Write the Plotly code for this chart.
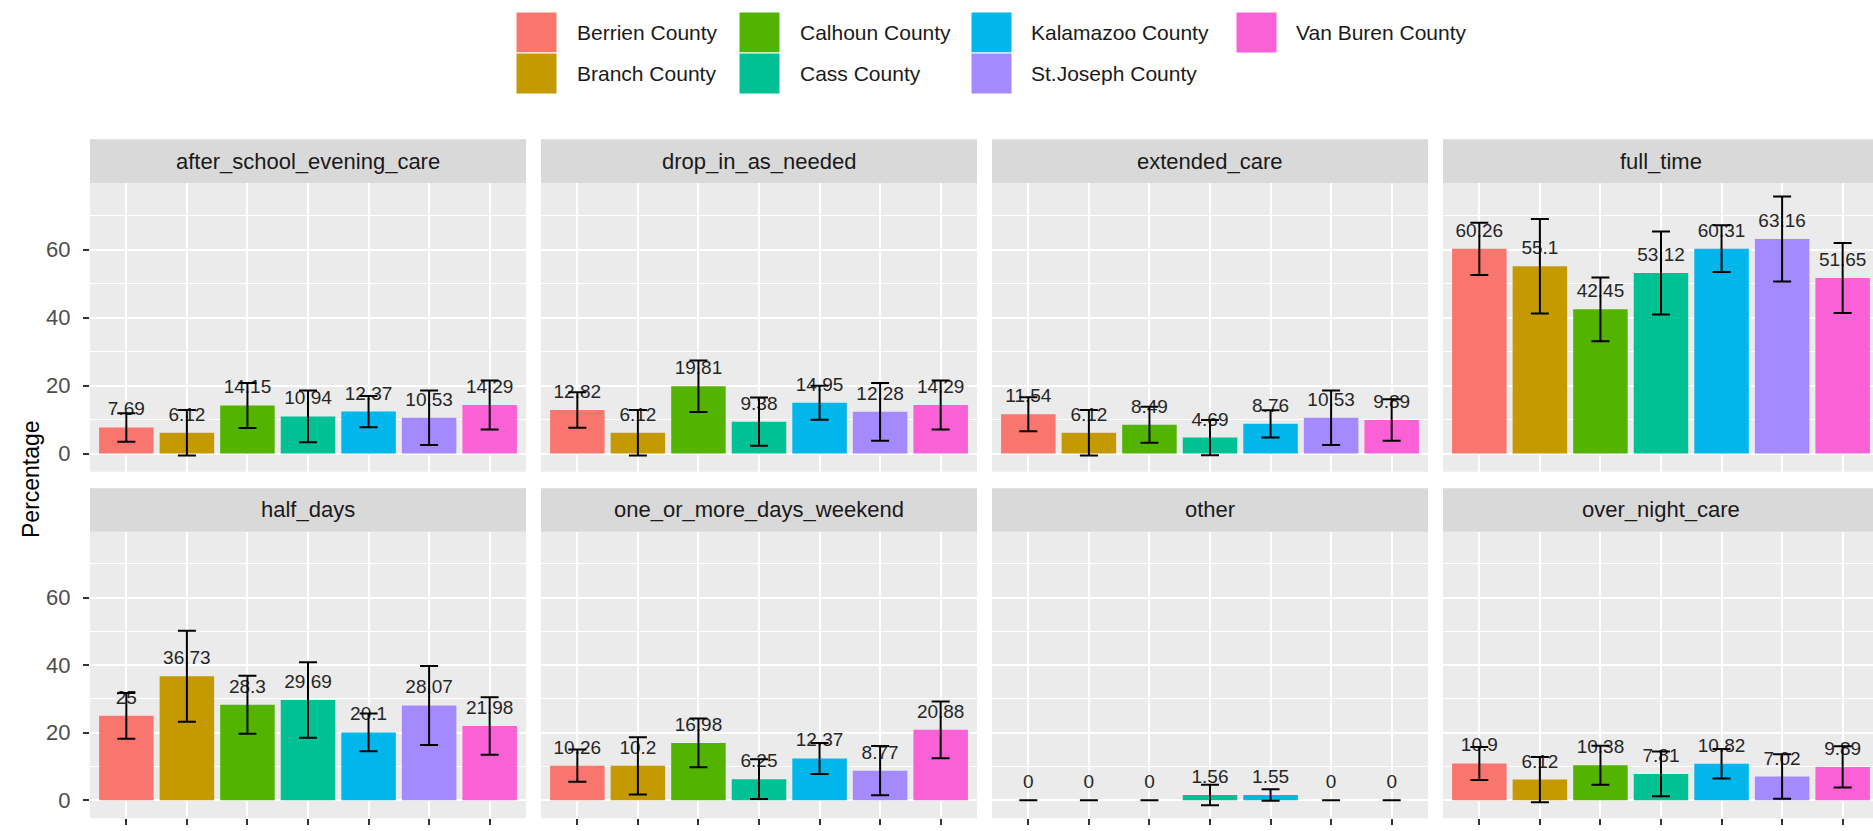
import plotly.graph_objects as go

# ---------------- data ----------------
categories = ["after_school_evening_care", "drop_in_as_needed", "extended_care", "full_time",
              "half_days", "one_or_more_days_weekend", "other", "over_night_care"]
counties = ["Berrien County", "Branch County", "Calhoun County", "Cass County",
            "Kalamazoo County", "St.Joseph County", "Van Buren County"]
colors = ["#F8766D", "#C49A00", "#53B400", "#00C094", "#00B6EB", "#A58AFF", "#FB61D7"]

# percentages per county, in the order of `categories`
berrien = [7.69, 12.82, 11.54, 60.26, 25, 10.26, 0, 10.9]
branch = [6.12, 6.12, 6.12, 55.1, 36.73, 10.2, 0, 6.12]
calhoun = [14.15, 19.81, 8.49, 42.45, 28.3, 16.98, 0, 10.38]
cass = [10.94, 9.38, 4.69, 53.12, 29.69, 6.25, 1.56, 7.81]
kalamazoo = [12.37, 14.95, 8.76, 60.31, 20.1, 12.37, 1.55, 10.82]
st_joseph = [10.53, 12.28, 10.53, 63.16, 28.07, 8.77, 0, 7.02]
van_buren = [14.29, 14.29, 9.89, 51.65, 21.98, 20.88, 0, 9.89]

# error-bar half widths (percentage points)
berrien_err = [4.2, 5.2, 5.0, 7.7, 6.8, 4.8, 0, 4.9]
branch_err = [6.7, 6.7, 6.7, 13.9, 13.5, 8.5, 0, 6.7]
calhoun_err = [6.6, 7.6, 5.3, 9.4, 8.6, 7.2, 0, 5.8]
cass_err = [7.6, 7.1, 5.2, 12.2, 11.2, 5.9, 3.0, 6.6]
kalamazoo_err = [4.6, 5.0, 4.0, 6.9, 5.6, 4.6, 1.7, 4.4]
st_joseph_err = [8.0, 8.5, 8.0, 12.5, 11.7, 7.3, 0, 6.6]
van_buren_err = [7.2, 7.2, 6.1, 10.3, 8.5, 8.4, 0, 6.1]

y_ticks = [0, 20, 40, 60]
y_minor = [10, 30, 50, 70]
y_title = "Percentage"

series = [berrien, branch, calhoun, cass, kalamazoo, st_joseph, van_buren]
series_err = [berrien_err, branch_err, calhoun_err, cass_err, kalamazoo_err, st_joseph_err, van_buren_err]

# ---------------- layout geometry (px) ----------------
W, H = 1873, 831
PANEL_W, GAP, LEFT0 = 436, 15, 90
ROWS = [  # (panel top, panel bottom, strip top)
    (183.3, 471.7, 139.3),
    (531.7, 818.3, 488.3),
]
YR = [-5.34, 79.54]
FONT = "Liberation Sans, Arial, sans-serif"

fig = go.Figure()
shapes, annotations = [], []
layout_axes = {}


def px_x(v):
    return v / W


def px_y(v):
    return 1 - v / H


for k, cat in enumerate(categories):
    r, c = divmod(k, 4)
    n = k + 1
    xa = "x" if n == 1 else f"x{n}"
    ya = "y" if n == 1 else f"y{n}"
    x0 = LEFT0 + c * (PANEL_W + GAP)
    x1 = min(x0 + PANEL_W, W)
    top, bot, stop = ROWS[r]
    xr = [-0.6, -0.6 + 7.2 * (x1 - x0) / PANEL_W]

    vals = [s[k] for s in series]
    errs = [e[k] for e in series_err]

    fig.add_trace(go.Bar(
        x=counties, y=vals, width=0.9, xaxis=xa, yaxis=ya,
        marker=dict(color=colors, line=dict(width=0)),
        showlegend=False, hoverinfo="x+y"))
    fig.add_trace(go.Scatter(
        x=counties, y=vals, xaxis=xa, yaxis=ya, mode="markers+text",
        text=[f"{v:g}" for v in vals], textposition="top center",
        textfont=dict(family=FONT, size=19, color="#262626"),
        marker=dict(size=10, color="rgba(0,0,0,0)"),
        showlegend=False, hoverinfo="skip", cliponaxis=False))
    fig.add_trace(go.Scatter(
        x=counties, y=vals, xaxis=xa, yaxis=ya, mode="markers",
        marker=dict(size=1, color="rgba(0,0,0,0)"),
        error_y=dict(type="data", array=errs, color="black", thickness=2, width=9),
        showlegend=False, hoverinfo="skip"))

    xkey = "xaxis" if n == 1 else f"xaxis{n}"
    ykey = "yaxis" if n == 1 else f"yaxis{n}"
    layout_axes[xkey] = dict(
        domain=[px_x(x0), px_x(x1)], anchor=ya, range=xr,
        type="category", categoryorder="array", categoryarray=counties,
        showgrid=True, gridcolor="white", gridwidth=2,
        showticklabels=False, zeroline=False, showline=False,
        ticks="outside" if r == 1 else "", ticklen=6, tickwidth=2, tickcolor="#333333",
        fixedrange=True)
    layout_axes[ykey] = dict(
        domain=[px_y(bot), px_y(top)], anchor=xa, range=YR,
        tickmode="array", tickvals=y_ticks,
        showgrid=True, gridcolor="white", gridwidth=2,
        minor=dict(tickmode="array", tickvals=y_minor, showgrid=True,
                   gridcolor="white", gridwidth=1),
        showticklabels=(c == 0), zeroline=False, showline=False,
        ticks="outside" if c == 0 else "", ticklen=6, tickwidth=2, tickcolor="#333333",
        ticklabelstandoff=8,
        tickfont=dict(family=FONT, size=22, color="#4D4D4D"),
        fixedrange=True)

    # strip
    shapes.append(dict(type="rect", xref="paper", yref="paper",
                       x0=px_x(x0), x1=px_x(x1), y0=px_y(top), y1=px_y(stop),
                       fillcolor="#D9D9D9", line=dict(width=0), layer="below"))
    annotations.append(dict(xref="paper", yref="paper",
                            x=px_x(x0 + PANEL_W / 2), y=px_y((top + stop) / 2),
                            text=cat, showarrow=False, xanchor="center", yanchor="middle",
                            font=dict(family=FONT, size=22, color="#1A1A1A")))

# y axis title
annotations.append(dict(xref="paper", yref="paper", x=px_x(31), y=px_y(479),
                        text=y_title, showarrow=False, textangle=-90,
                        xanchor="center", yanchor="middle",
                        font=dict(family=FONT, size=23, color="#000000")))

# legend (ggplot-style, column-major, 2 rows)
KEY = 41
key_lefts = [516, 739, 971, 1236]
text_lefts = [575, 798, 1029, 1294]
row_tops = [12, 53]
for i, (name, col) in enumerate(zip(counties, colors)):
    cc, rr = divmod(i, 2)
    kx, ky = key_lefts[cc], row_tops[rr]
    shapes.append(dict(type="rect", xref="paper", yref="paper",
                       x0=px_x(kx), x1=px_x(kx + KEY), y0=px_y(ky + KEY), y1=px_y(ky),
                       fillcolor=col, line=dict(color="white", width=1)))
    annotations.append(dict(xref="paper", yref="paper", x=px_x(text_lefts[cc]),
                            y=px_y(ky + KEY / 2), text=name, showarrow=False,
                            xanchor="left", yanchor="middle",
                            font=dict(family=FONT, size=21, color="#1A1A1A")))

fig.update_layout(
    width=W, height=H,
    margin=dict(l=0, r=0, t=0, b=0),
    paper_bgcolor="white", plot_bgcolor="#EBEBEB",
    showlegend=False,
    shapes=shapes, annotations=annotations,
    font=dict(family=FONT),
    **layout_axes,
)

fig.write_html(
    "out.html",
    config={"displayModeBar": False},
    post_script="document.body.style.margin='0';document.body.style.overflow='hidden';",
)
